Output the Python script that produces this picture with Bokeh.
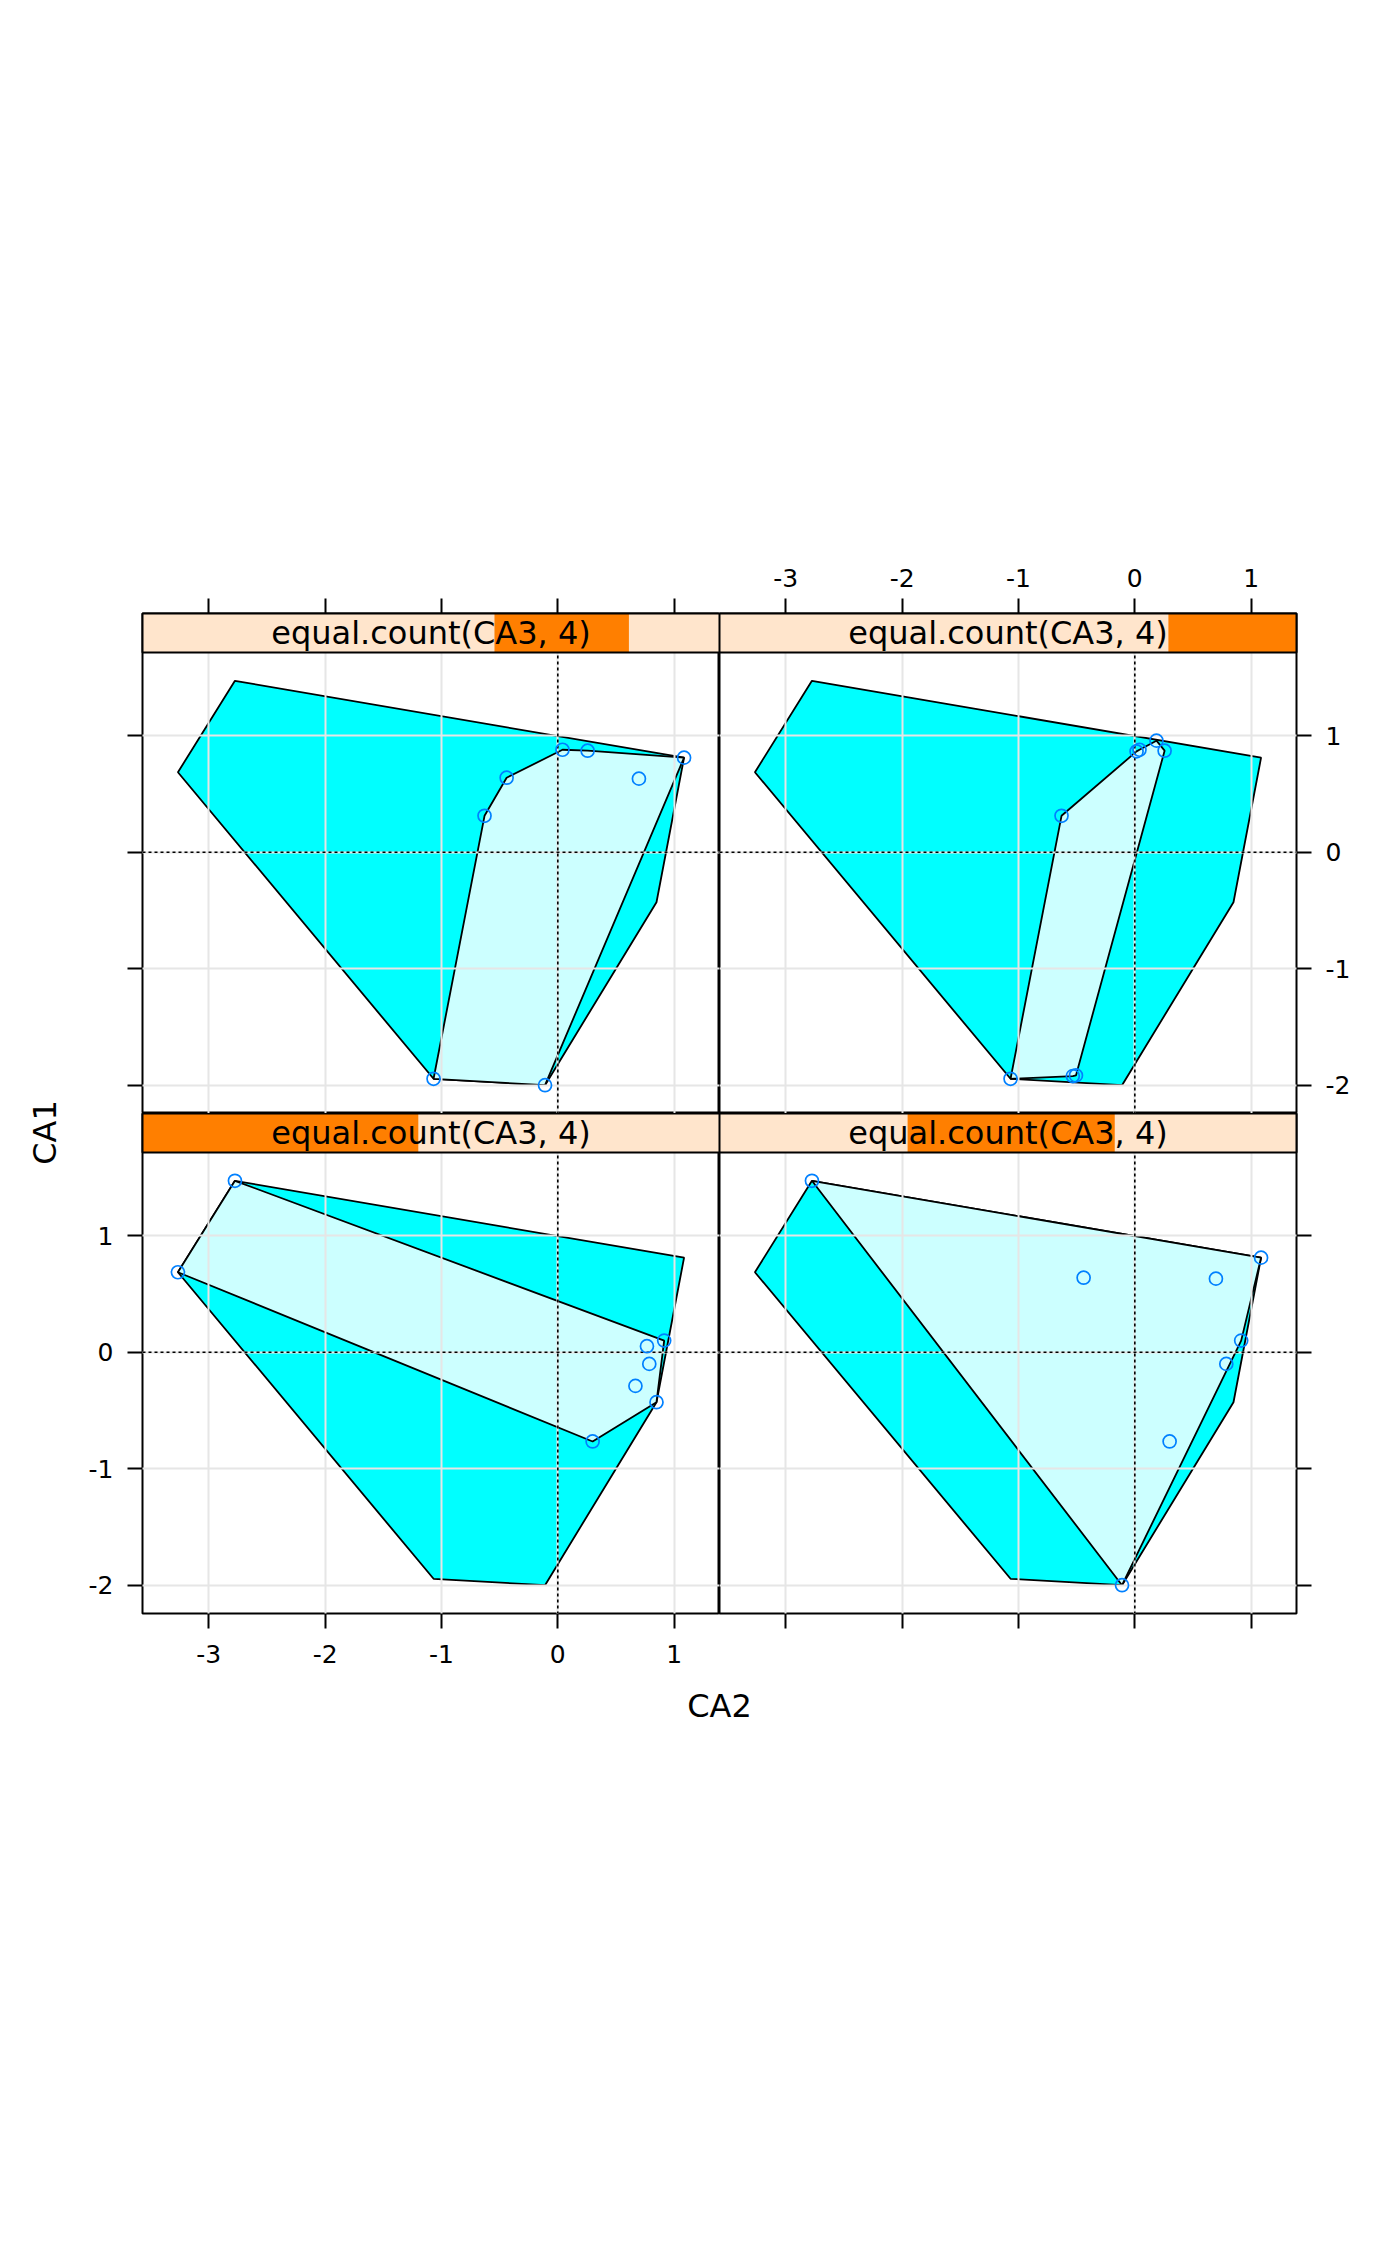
import numpy as np
from bokeh.plotting import figure
from bokeh.layouts import row, column
from bokeh.models import Range1d, LinearAxis, FixedTicker, Grid, Span
from bokeh.core.properties import value
from bokeh.embed import file_html
from bokeh.resources import INLINE

# ---------------- data ----------------
point_ids = list("ABCDEFGHIJKLMNOPQRST")
ca2 = [-2.775, -3.265, 1.085, -0.440, 0.697, 0.914, 0.766, 0.786, 0.667, 0.848,
       0.299, -0.110, -1.068, -0.630, 0.040, 0.256, 0.015, 0.186, -0.533, -0.506]
ca1 = [1.472, 0.687, 0.812, 0.640, 0.632, 0.100, 0.052, -0.100, -0.289, -0.429,
       -0.766, -2.000, -1.945, 0.313, 0.880, 0.872, 0.866, 0.958, -1.922, -1.916]

# members of each level of the shingle equal.count(CA3, 4)
level1_members = ["A", "B", "F", "G", "H", "I", "J", "K"]
level2_members = ["A", "C", "D", "E", "F", "H", "K", "L"]
level3_members = ["C", "D", "E", "L", "M", "N", "O", "P"]
level4_members = ["M", "N", "O", "P", "Q", "R", "S", "T"]
levels_members = [level1_members, level2_members, level3_members, level4_members]

# shingle level intervals, as fraction of the CA3 range
level_lo = [0.0, 0.326, 0.610, 0.778]
level_hi = [0.478, 0.685, 0.843, 1.0]

x_ticks = [-3, -2, -1, 0, 1]
y_ticks = [-2, -1, 0, 1]
strip_label = "equal.count(CA3, 4)"
x_title = "CA2"
y_title = "CA1"

# ---------------- helpers ----------------
FONT = "DejaVu Sans"
coords = {k: (x, y) for k, x, y in zip(point_ids, ca2, ca1)}


def convex_hull(pts):
    pts = sorted(set(pts))
    if len(pts) <= 2:
        return pts

    def cross(o, a, b):
        return (a[0] - o[0]) * (b[1] - o[1]) - (a[1] - o[1]) * (b[0] - o[0])

    lower = []
    for p in pts:
        while len(lower) >= 2 and cross(lower[-2], lower[-1], p) <= 0:
            lower.pop()
        lower.append(p)
    upper = []
    for p in reversed(pts):
        while len(upper) >= 2 and cross(upper[-2], upper[-1], p) <= 0:
            upper.pop()
        upper.append(p)
    return lower[:-1] + upper[:-1]


xr = max(ca2) - min(ca2)
yr = max(ca1) - min(ca1)
XMIN, XMAX = min(ca2) - 0.07 * xr, max(ca2) + 0.07 * xr
YMIN, YMAX = min(ca1) - 0.07 * yr, max(ca1) + 0.07 * yr

# layout sizes (px)
W_YLAB = 68
LEFT_B = 74
FRAME_W = 577
RIGHT_B = 80
TOP_B = 613
FRAME_H = 500
STRIP_H = 39
BOTTOM_B = 60
XLAB_H = 70

STRIP_UNITS = (YMAX - YMIN) * STRIP_H / (FRAME_H - STRIP_H)
YTOP = YMAX + STRIP_UNITS

outer = convex_hull(list(coords.values()))


def make_axis(ticks, show_labels, standoff):
    ax = LinearAxis(ticker=FixedTicker(ticks=ticks, minor_ticks=[]))
    ax.axis_line_color = None
    ax.major_tick_in = 0
    ax.major_tick_out = 15
    ax.major_tick_line_width = 2
    ax.major_tick_line_color = "black"
    ax.minor_tick_line_color = None
    ax.major_label_text_font = FONT
    ax.major_label_text_font_size = "25px"
    ax.major_label_text_color = "black"
    ax.major_label_standoff = standoff
    if show_labels:
        ax.major_label_overrides = {t: str(t) for t in ticks}
    else:
        ax.major_label_overrides = {t: "" for t in ticks}
    return ax


def make_panel(level, pos):
    left = pos in ("tl", "bl")
    top = pos in ("tl", "tr")
    width = (LEFT_B if left else 0) + FRAME_W + (0 if left else RIGHT_B)
    height = (TOP_B if top else 0) + FRAME_H + (0 if top else BOTTOM_B)
    p = figure(width=width, height=height,
               x_range=Range1d(XMIN, XMAX), y_range=Range1d(YMIN, YTOP),
               x_axis_location=None, y_axis_location=None,
               output_backend="svg", toolbar_location=None, title=None,
               min_border_left=LEFT_B if left else 0,
               min_border_right=0 if left else RIGHT_B,
               min_border_top=TOP_B if top else 0,
               min_border_bottom=0 if top else BOTTOM_B)
    p.grid.visible = False
    p.background_fill_color = "white"
    p.border_fill_color = "white"
    p.outline_line_color = "black"
    p.outline_line_width = 2

    # polygons
    ox = [q[0] for q in outer]
    oy = [q[1] for q in outer]
    p.patch(ox, oy, fill_color="#00ffff", line_color="black", line_width=1.8)
    members = levels_members[level]
    inner = convex_hull([coords[k] for k in members])
    p.patch([q[0] for q in inner], [q[1] for q in inner],
            fill_color="#ccffff", line_color="black", line_width=1.8)

    # grid over polygons
    p.add_layout(Grid(dimension=0, ticker=FixedTicker(ticks=x_ticks, minor_ticks=[]),
                      grid_line_color="#e6e6e6", grid_line_width=2, level="guide"))
    p.add_layout(Grid(dimension=1, ticker=FixedTicker(ticks=y_ticks, minor_ticks=[]),
                      grid_line_color="#e6e6e6", grid_line_width=2, level="guide"))
    # reference lines
    p.add_layout(Span(location=0, dimension="height", line_color="black",
                      line_dash="3 3", line_width=1.6))
    p.add_layout(Span(location=0, dimension="width", line_color="black",
                      line_dash="3 3", line_width=1.6))

    # points
    r = p.scatter([coords[k][0] for k in members], [coords[k][1] for k in members],
                  marker="circle", size=13, fill_color=None,
                  line_color="#0080ff", line_width=1.7)
    r.level = "overlay"

    # strip
    r = p.quad(left=[XMIN], right=[XMAX], bottom=[YMAX], top=[YTOP],
               fill_color="#ffe5cc", line_color=None)
    r.level = "overlay"
    lo = XMIN + level_lo[level] * (XMAX - XMIN)
    hi = XMIN + level_hi[level] * (XMAX - XMIN)
    r = p.quad(left=[lo], right=[hi], bottom=[YMAX], top=[YTOP],
               fill_color="#ff7f00", line_color=None)
    r.level = "overlay"
    r = p.quad(left=[XMIN], right=[XMAX], bottom=[YMAX], top=[YTOP],
               fill_color=None, line_color="black", line_width=2)
    r.level = "overlay"
    r = p.text(x=[(XMIN + XMAX) / 2], y=[(YMAX + YTOP) / 2], text=[strip_label],
               text_align="center", text_baseline="middle",
               text_font=value(FONT), text_font_size="32px", text_color="black")
    r.level = "overlay"

    # axes
    if top:
        p.add_layout(make_axis(x_ticks, pos == "tr", 12), "above")
    else:
        p.add_layout(make_axis(x_ticks, pos == "bl", 16), "below")
    if left:
        p.add_layout(make_axis(y_ticks, pos == "bl", 14), "left")
    else:
        p.add_layout(make_axis(y_ticks, pos == "tr", 14), "right")
    return p


tl = make_panel(2, "tl")
tr = make_panel(3, "tr")
bl = make_panel(0, "bl")
br = make_panel(1, "br")

TOTAL_H = TOP_B + FRAME_H + FRAME_H + BOTTOM_B + XLAB_H

# y title
ylab = figure(width=W_YLAB, height=TOTAL_H, x_range=Range1d(0, W_YLAB),
              y_range=Range1d(TOTAL_H, 0), x_axis_location=None, y_axis_location=None,
              output_backend="svg", toolbar_location=None, title=None,
              min_border_left=0, min_border_right=0, min_border_top=0, min_border_bottom=0)
ylab.grid.visible = False
ylab.outline_line_color = None
ylab.text(x=[44], y=[1132], text=[y_title], angle=np.pi / 2,
          text_align="center", text_baseline="middle",
          text_font=value(FONT), text_font_size="32px", text_color="black")

# x title
xlab = figure(width=LEFT_B + 2 * FRAME_W + RIGHT_B, height=XLAB_H,
              x_range=Range1d(0, 1), y_range=Range1d(0, XLAB_H),
              x_axis_location=None, y_axis_location=None,
              output_backend="svg", toolbar_location=None, title=None,
              min_border_left=LEFT_B, min_border_right=RIGHT_B,
              min_border_top=0, min_border_bottom=0)
xlab.grid.visible = False
xlab.outline_line_color = None
xlab.text(x=[0.5], y=[38], text=[x_title],
          text_align="center", text_baseline="middle",
          text_font=value(FONT), text_font_size="32px", text_color="black")

layout = row(ylab, column(row(tl, tr), row(bl, br), xlab))
open("out.html", "w").write(file_html(layout, INLINE))
